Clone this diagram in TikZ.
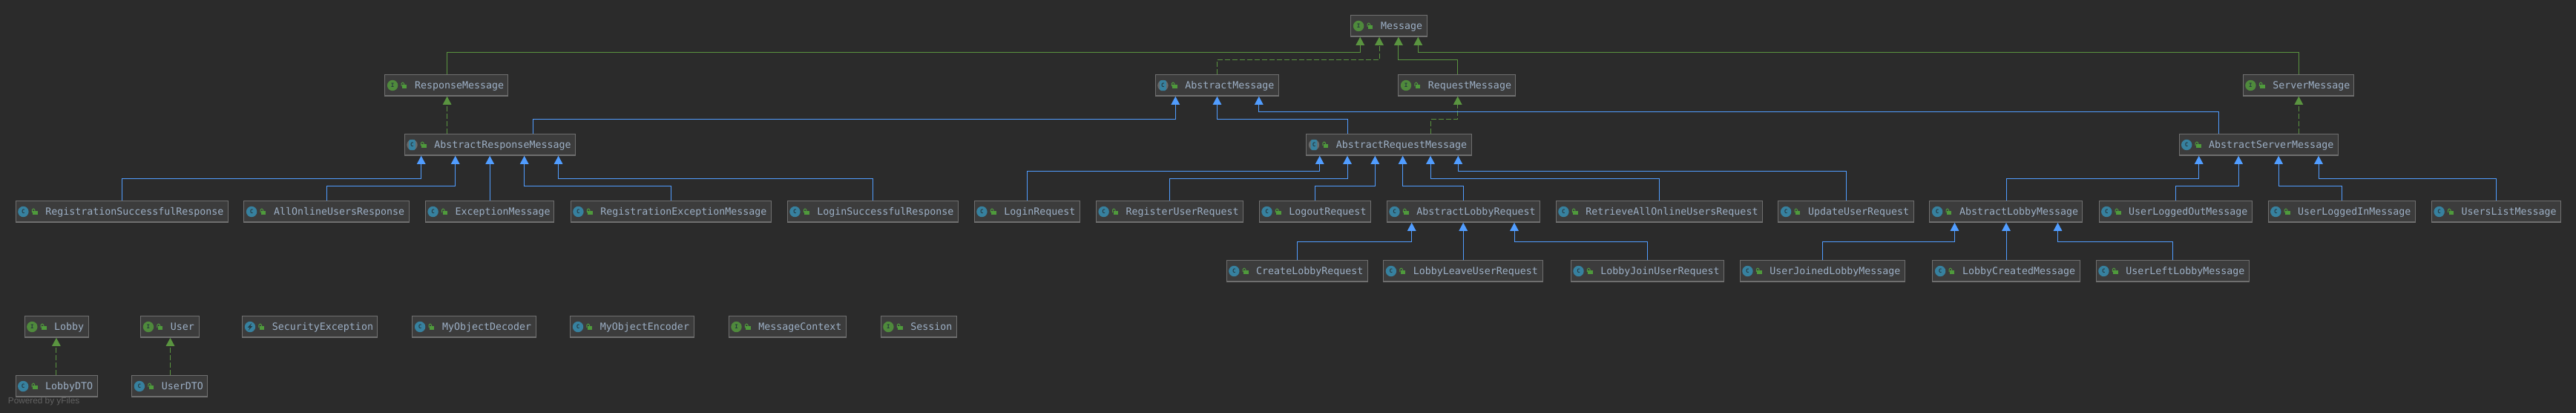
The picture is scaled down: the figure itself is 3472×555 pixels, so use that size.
\documentclass[tikz,border=0pt]{standalone}
\usepackage{fontspec}
\usetikzlibrary{arrows.meta}
\newfontfamily\boxfont{DejaVu Sans Mono}
\newfontfamily\credfont{Liberation Sans}
\definecolor{bgc}{HTML}{2B2B2B}
\definecolor{boxfill}{HTML}{3C3C3C}
\definecolor{boxedge}{HTML}{6F6F6F}
\definecolor{txtc}{HTML}{9DB0C6}
\definecolor{lgreen}{HTML}{5A9440}
\definecolor{lblue}{HTML}{519DFF}
\definecolor{igreen}{HTML}{4F8A3C}
\definecolor{iteal}{HTML}{37819F}
\definecolor{lockc}{HTML}{4F9A3C}
\definecolor{igrey}{HTML}{6A6A6A}
\definecolor{idark}{HTML}{26383F}
\definecolor{credc}{HTML}{626262}
\tikzset{
  boxn/.style={draw=boxedge,fill=boxfill,line width=1pt,minimum height=28.6pt,inner sep=0pt,
    path picture={\fill[boxedge] ([yshift=1.6pt]path picture bounding box.south west) rectangle (path picture bounding box.south east);}},
  lab/.style={anchor=base west,inner sep=0pt,text=txtc,font=\boxfont\fontsize{13.3}{15}\selectfont},
  iconlet/.style={inner sep=0pt,text=idark,font=\boxfont\bfseries\fontsize{7.5}{8}\selectfont},
  extend/.style={draw=lblue,line width=1pt,-{Triangle[width=11.5pt,length=11pt,fill=lblue]}},
  impl/.style={draw=lgreen,line width=1pt,-{Triangle[width=11.5pt,length=11pt,fill=lgreen]}},
  impld/.style={impl,dash pattern=on 7pt off 3pt},
}
\newcommand\iconI[3]{\fill[igreen] (#1,#2) circle[radius=7.2pt];\node[iconlet] (#3-i) at (#1,#2) {I};}
\newcommand\iconC[3]{\fill[iteal] (#1,#2) circle[radius=7.2pt];\node[iconlet] (#3-i) at (#1,#2) {C};}
\newcommand\iconA[3]{\fill[igrey] (#1,#2) circle[radius=7.2pt];\fill[iteal,rounded corners=1.5pt] (#1-4.4,#2-7) rectangle (#1+4.4,#2+7);\node[iconlet] (#3-i) at (#1,#2) {C};}
\newcommand\iconE[3]{\fill[iteal] (#1,#2) circle[radius=7.2pt];\fill[idark] (#1+2.2,#2-5) -- (#1-3.2,#2+0.8) -- (#1-0.3,#2+0.8) -- (#1-2.2,#2+5) -- (#1+3.2,#2-0.8) -- (#1+0.3,#2-0.8) -- cycle;\coordinate (#3-i) at (#1,#2);}
\newcommand\cbox[6]{%
  \pgfmathsetmacro\bcx{(#3+#4)/2}\pgfmathsetmacro\bwd{#4-#3-1}\pgfmathsetmacro\bcy{#5+14.7}%
  \pgfmathsetmacro\icx{#3+10.7}%
  \node[boxn,minimum width=\bwd pt] (#2) at (\bcx,\bcy) {};
  \csname icon#1\endcsname{\icx}{\bcy}{#2}%
  \fill[lockc] (#3+23.6,\bcy-0.7) rectangle (#3+30,\bcy+4);
  \draw[lockc,line width=1pt,rounded corners=1.6pt] (#3+22.6,\bcy+1) -- (#3+22.6,\bcy-4) -- (#3+26.2,\bcy-4) -- (#3+26.2,\bcy-0.7);
  \node[lab] (#2-t) at (#3+40.4,\bcy+4) {#6};
}
\newcommand\bus[6]{\draw[#1] (#2.north -| #3,0) -- (#3,#4) -- (#6,#4) -- (#5.south -| #6,0);}
\newcommand\direct[4]{\draw[#1] (#2.north -| #4,0) -- (#3.south -| #4,0);}
\begin{document}
\begin{tikzpicture}[x=1pt,y=-1pt]
\useasboundingbox (0,0) rectangle (3472,555);
\fill[bgc] (-6,-6) rectangle (3478,561);
% row 1
\cbox{I}{Msg}{1820.4}{1923.6}{20.3}{Message}
% row 2
\cbox{I}{RespM}{518.4}{685.4}{100.3}{ResponseMessage}
\cbox{A}{AbsM}{1556.7}{1724.3}{100.3}{AbstractMessage}
\cbox{I}{ReqM}{1884.3}{2043.3}{100.3}{RequestMessage}
\cbox{I}{SrvM}{3022.7}{3173.4}{100.3}{ServerMessage}
% row 3
\cbox{A}{AbsResp}{544.8}{775.6}{180.3}{AbstractResponseMessage}
\cbox{A}{AbsReq}{1760.3}{1983.6}{180.3}{AbstractRequestMessage}
\cbox{C}{AbsSrv}{2936.5}{3151.7}{180.3}{AbstractServerMessage}
% row 4
\cbox{C}{RegOk}{20.7}{307.7}{270.3}{RegistrationSuccessfulResponse}
\cbox{C}{AllOn}{328.4}{551.7}{270.3}{AllOnlineUsersResponse}
\cbox{C}{ExcM}{572.9}{747.4}{270.3}{ExceptionMessage}
\cbox{C}{RegEx}{768.7}{1039.5}{270.3}{RegistrationExceptionMessage}
\cbox{C}{LogOk}{1060.7}{1291.5}{270.3}{LoginSuccessfulResponse}
\cbox{C}{LogReq}{1312.7}{1455.7}{270.3}{LoginRequest}
\cbox{C}{RegUsr}{1476.9}{1675.5}{270.3}{RegisterUserRequest}
\cbox{C}{LogOut}{1696.8}{1847.6}{270.3}{LogoutRequest}
\cbox{C}{AbsLReq}{1868.8}{2075.5}{270.3}{AbstractLobbyRequest}
\cbox{C}{RetAll}{2096.7}{2375.7}{270.3}{RetrieveAllOnlineUsersRequest}
\cbox{C}{UpdUsr}{2396.4}{2579.5}{270.3}{UpdateUserRequest}
\cbox{C}{AbsLMsg}{2600.4}{2807.4}{270.3}{AbstractLobbyMessage}
\cbox{C}{UsrOut}{2828.6}{3035.5}{270.3}{UserLoggedOutMessage}
\cbox{C}{UsrIn}{3056.6}{3255.7}{270.3}{UserLoggedInMessage}
\cbox{C}{UsrLst}{3276.9}{3451.5}{270.3}{UsersListMessage}
% row 5
\cbox{C}{CrLob}{1652.6}{1843.6}{350.3}{CreateLobbyRequest}
\cbox{C}{LobLv}{1864.2}{2079.5}{350.3}{LobbyLeaveUserRequest}
\cbox{C}{LobJn}{2116.8}{2323.5}{350.3}{LobbyJoinUserRequest}
\cbox{C}{UsrJn}{2344.7}{2567.5}{350.3}{UserJoinedLobbyMessage}
\cbox{C}{LobCr}{2604.4}{2803.6}{350.3}{LobbyCreatedMessage}
\cbox{C}{UsrLf}{2824.7}{3031.6}{350.3}{UserLeftLobbyMessage}
% row 6
\cbox{I}{Lob}{32.6}{119.6}{425.3}{Lobby}
\cbox{I}{Usr}{189.3}{268.8}{425.3}{User}
\cbox{E}{SecEx}{326.3}{509.4}{425.3}{SecurityException}
\cbox{C}{Dec}{555.4}{722.6}{425.3}{MyObjectDecoder}
\cbox{C}{Enc}{768.3}{935.5}{425.3}{MyObjectEncoder}
\cbox{I}{MCtx}{981.8}{1140.5}{425.3}{MessageContext}
\cbox{I}{Sess}{1186.7}{1289.7}{425.3}{Session}
% row 7
\cbox{C}{LobD}{20.5}{131.7}{505.3}{LobbyDTO}
\cbox{C}{UsrD}{177.2}{280.4}{505.3}{UserDTO}
\node[inner sep=0pt,anchor=base west,text=credc,font=\credfont\fontsize{11.8}{13}\selectfont] (pwr) at (10.7,543) {Powered by yFiles};
% connectors to Message
\bus{impl}{RespM}{602.8}{70.3}{Msg}{1833.2}
\bus{impld}{AbsM}{1640.5}{80.3}{Msg}{1859.0}
\bus{impl}{ReqM}{1964.7}{80.3}{Msg}{1884.9}
\bus{impl}{SrvM}{3098.3}{70.3}{Msg}{1911.3}
% interface realisations
\direct{impld}{AbsResp}{RespM}{602.6}
\bus{impld}{AbsReq}{1928.5}{160.3}{ReqM}{1964.7}
\direct{impld}{AbsSrv}{SrvM}{3098.3}
\direct{impld}{LobD}{Lob}{75.9}
\direct{impld}{UsrD}{Usr}{229.5}
% to AbstractMessage
\bus{extend}{AbsResp}{718.7}{160.3}{AbsM}{1584.3}
\bus{extend}{AbsReq}{1816.6}{160.3}{AbsM}{1640.5}
\bus{extend}{AbsSrv}{2990.4}{150.3}{AbsM}{1696.8}
% to AbstractResponseMessage
\bus{extend}{RegOk}{164.8}{240.3}{AbsResp}{567.7}
\bus{extend}{AllOn}{440.9}{250.3}{AbsResp}{613.7}
\direct{extend}{ExcM}{AbsResp}{660.2}
\bus{extend}{RegEx}{904.6}{250.3}{AbsResp}{706.7}
\bus{extend}{LogOk}{1176.7}{240.3}{AbsResp}{752.6}
% to AbstractRequestMessage
\bus{extend}{LogReq}{1384.5}{230.3}{AbsReq}{1778.7}
\bus{extend}{RegUsr}{1576.2}{240.3}{AbsReq}{1816.0}
\bus{extend}{LogOut}{1772.5}{250.3}{AbsReq}{1853.3}
\bus{extend}{AbsLReq}{1972.7}{250.3}{AbsReq}{1890.6}
\bus{extend}{RetAll}{2236.8}{240.3}{AbsReq}{1928.0}
\bus{extend}{UpdUsr}{2488.8}{230.3}{AbsReq}{1965.3}
% to AbstractLobbyRequest
\bus{extend}{CrLob}{1748.5}{325.3}{AbsLReq}{1902.7}
\direct{extend}{LobLv}{AbsLReq}{1972.2}
\bus{extend}{LobJn}{2220.7}{325.3}{AbsLReq}{2041.0}
% to AbstractServerMessage
\bus{extend}{AbsLMsg}{2704.6}{240.3}{AbsSrv}{2963.7}
\bus{extend}{UsrOut}{2932.6}{250.3}{AbsSrv}{3017.1}
\bus{extend}{UsrIn}{3156.7}{250.3}{AbsSrv}{3071.1}
\bus{extend}{UsrLst}{3364.7}{240.3}{AbsSrv}{3125.0}
% to AbstractLobbyMessage
\bus{extend}{UsrJn}{2456.7}{325.3}{AbsLMsg}{2634.5}
\direct{extend}{LobCr}{AbsLMsg}{2704.0}
\bus{extend}{UsrLf}{2928.7}{325.3}{AbsLMsg}{2773.5}
\end{tikzpicture}
\end{document}
